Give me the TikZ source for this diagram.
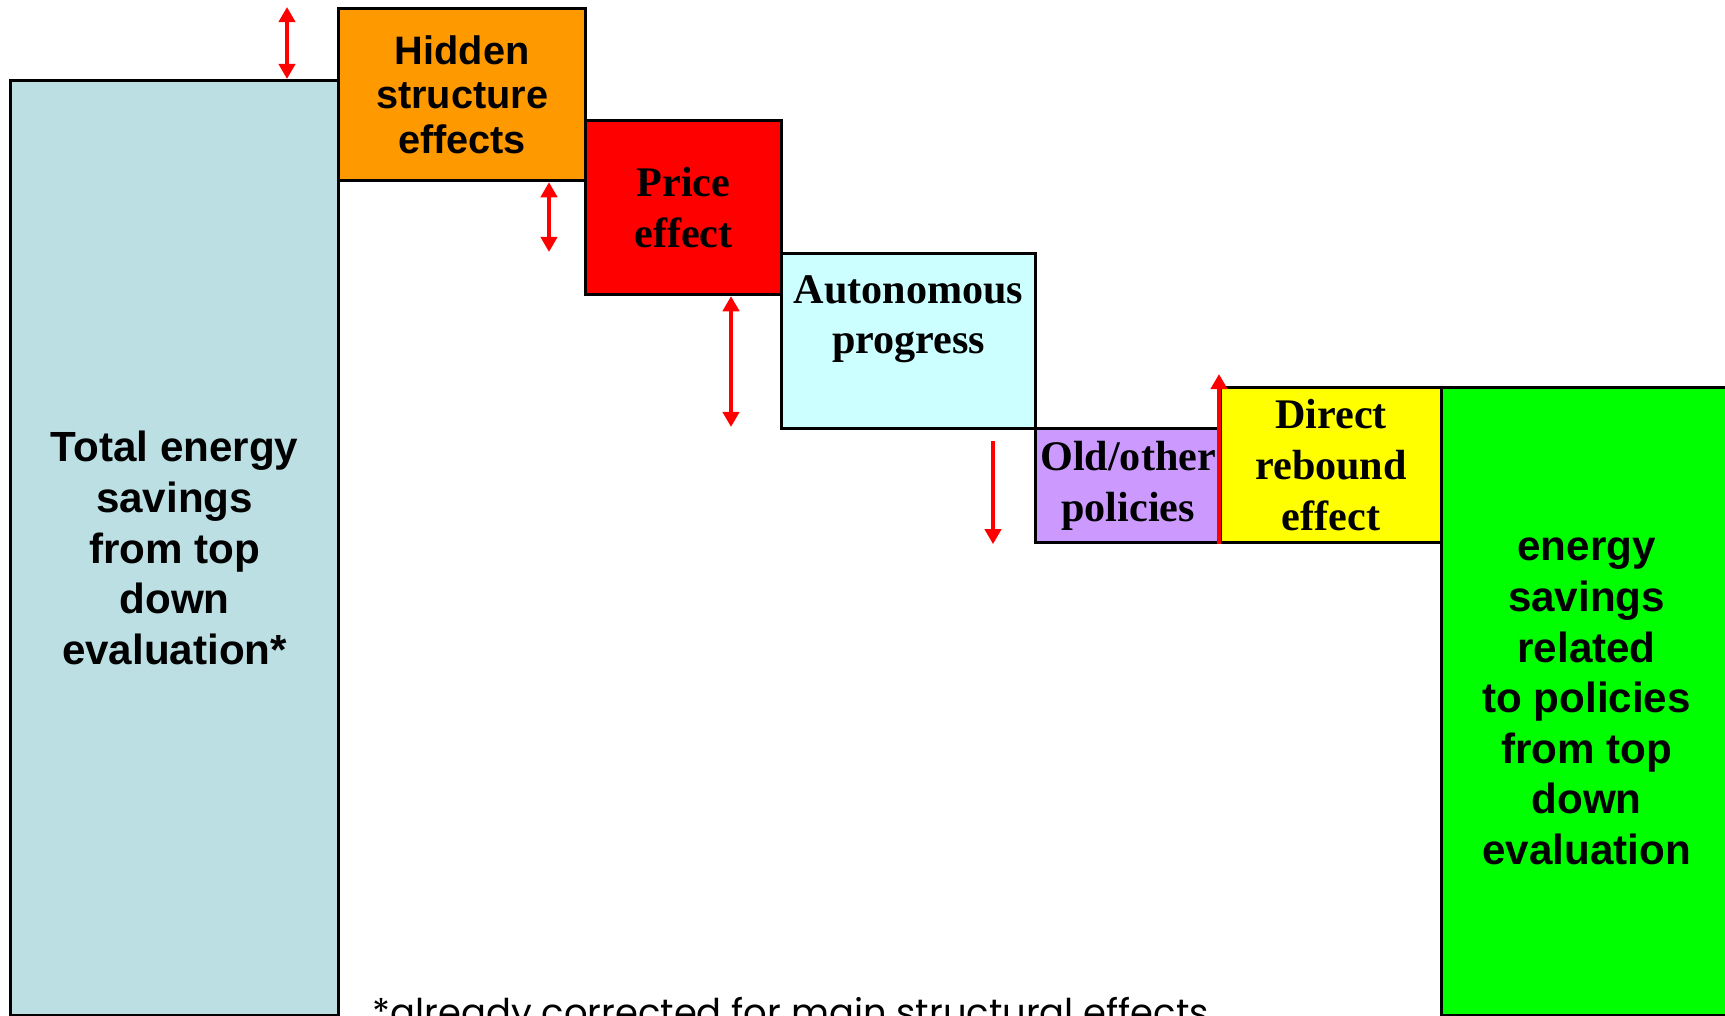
\documentclass[tikz,border=0pt]{standalone}
\usepackage{fontspec}
\newfontfamily\sansfnt{Liberation Sans}
\newfontfamily\seriffnt{Liberation Serif}
\newfontfamily\notefnt{Poppins}
\usetikzlibrary{arrows.meta}

\definecolor{totalblue}{HTML}{BBDFE3}
\definecolor{hiddenorange}{HTML}{FF9900}
\definecolor{autocyan}{HTML}{CCFFFF}
\definecolor{oldviolet}{HTML}{CC99FF}
\definecolor{reboundyellow}{HTML}{FFFF00}
\definecolor{policygreen}{HTML}{00FF00}

\tikzset{
  box/.style={draw=black, line width=0.9pt, inner sep=0pt, anchor=north west, align=center},
  sansbox/.style={box, font=\sansfnt\bfseries\fontsize{12}{14.4}\selectfont},
  serifbox/.style={box, font=\seriffnt\bfseries\fontsize{12}{14.4}\selectfont},
  gap/.style={red, line width=1.4pt, {Triangle[length=4.3pt,width=4.6pt]}-{Triangle[length=4.3pt,width=4.6pt]}},
  drop/.style={red, line width=1.4pt, -{Triangle[length=4.3pt,width=4.6pt]}}
}

\begin{document}
\begin{tikzpicture}[x=0.1mm,y=-0.1mm]
  \useasboundingbox (0,0) rectangle (1725,1016);

  % the steps
  \node [sansbox, fill=totalblue, minimum width=32.8mm, minimum height=93.5mm] (total) at (9,79)
    {Total energy\\savings\\from top\\down\\evaluation*};
  \node [box, fill=hiddenorange, minimum width=24.7mm, minimum height=17.2mm,
    font=\sansfnt\bfseries\fontsize{11.3}{12.7}\selectfont] (hidden) at (337,7)
    {Hidden\\structure\\effects};
  \node [serifbox, fill=red, minimum width=19.6mm, minimum height=17.4mm] (price) at (584,119)
    {Price\\effect};
  \node [box, fill=autocyan, minimum width=25.4mm, minimum height=17.5mm] (auto) at (780,252) {};
  \node [serifbox, fill=oldviolet, minimum width=18.5mm, minimum height=11.4mm] (old) at (1034,427)
    {Old/other\\policies};
  \node [serifbox, fill=reboundyellow, minimum width=22.1mm, minimum height=15.5mm] (direct) at (1219,386)
    {Direct\\rebound\\effect};
  \node [sansbox, fill=policygreen, minimum width=29mm, minimum height=62.8mm] (policy) at (1440,386)
    {energy\\savings\\related\\to policies\\from top\\down\\evaluation};

  \node [align=center, font=\seriffnt\bfseries\fontsize{12}{14.4}\selectfont] (autotxt)
    at ([yshift=2.2mm]auto.center) {Autonomous\\progress};

  % the gaps between the steps
  \coordinate (a1) at (287,0);
  \coordinate (a2) at (549,0);
  \coordinate (a3) at (731,0);
  \coordinate (a4) at (993,441);
  \coordinate (a5) at (1219,374);

  \draw [gap] (a1 |- hidden.north) -- (a1 |- total.north);
  \draw [gap] (a2 |- hidden.south) -- (a2 |- auto.north);
  \draw [gap] (a3 |- price.south) -- (a3 |- old.north);
  \draw [drop] (a4) -- (a4 |- old.south);
  \draw [drop] (a5 |- old.south) -- (a5);

  \node [anchor=base west, inner sep=0pt, font=\notefnt\fontsize{10.5}{12}\selectfont] (note) at (372,1025)
    {*already corrected for main structural effects};
\end{tikzpicture}
\end{document}
